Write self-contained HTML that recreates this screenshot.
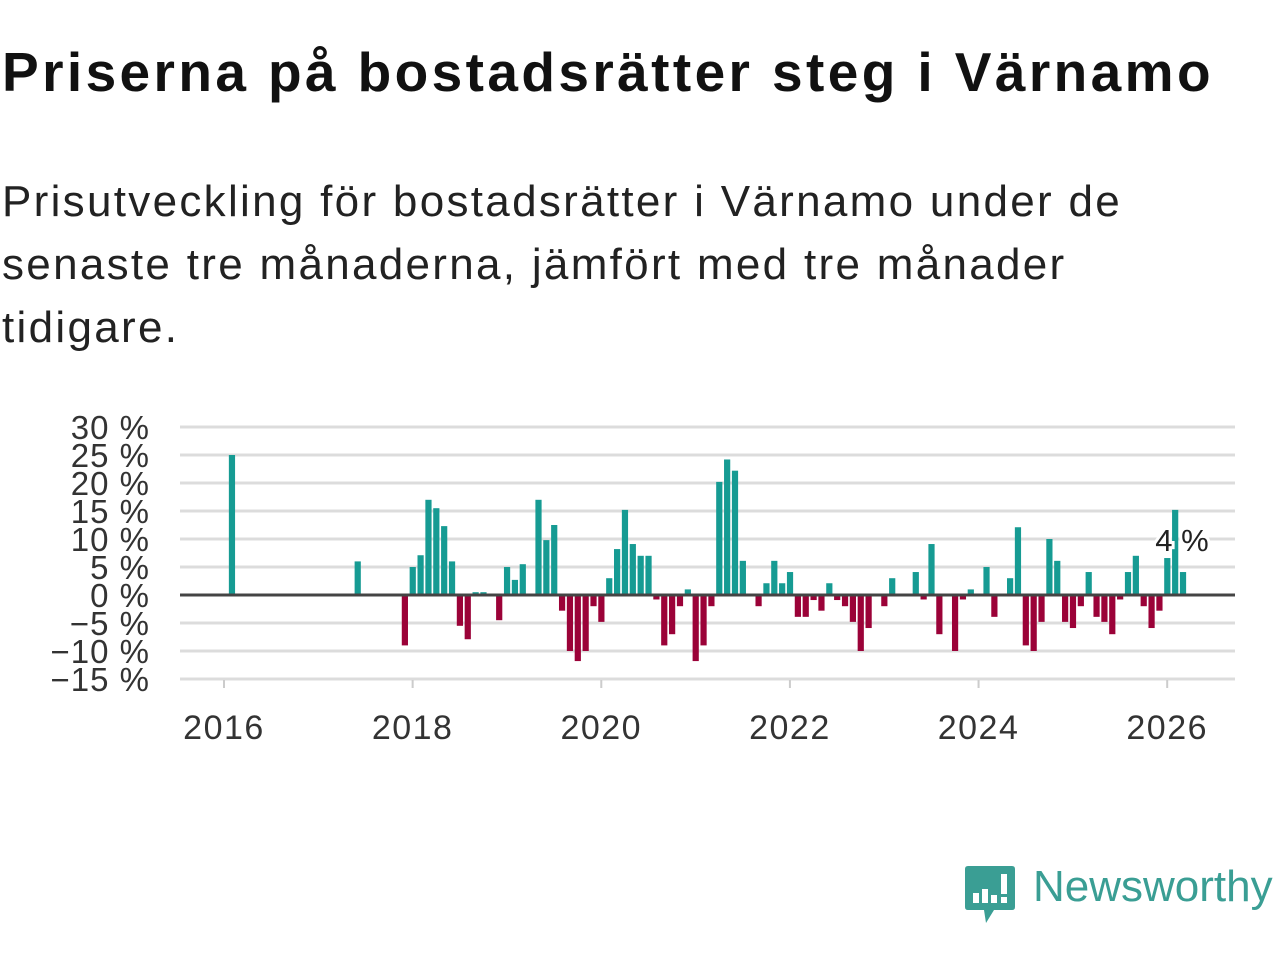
<!DOCTYPE html>
<html><head><meta charset="utf-8">
<style>
body{margin:0;background:#fff;width:1280px;height:960px;overflow:hidden;font-family:"Liberation Sans",sans-serif;color:#111;}
h1{position:absolute;left:2px;top:40px;margin:0;font-size:55px;font-weight:bold;letter-spacing:3.4px;white-space:nowrap;color:#111}
.sub{position:absolute;left:2px;top:170px;margin:0;font-size:44px;letter-spacing:2.3px;line-height:63px;width:1270px;color:#222;white-space:nowrap}
.brand{position:absolute;left:1033px;top:862px;font-size:44px;color:#3a9e94;}
</style></head><body>
<h1>Priserna på bostadsrätter steg i Värnamo</h1>
<p class="sub">Prisutveckling för bostadsrätter i Värnamo under de<br>senaste tre månaderna, jämfört med tre månader<br>tidigare.</p>
<svg id="chart" width="1280" height="960" style="position:absolute;left:0;top:0" xmlns="http://www.w3.org/2000/svg"></svg>
<svg style="position:absolute;left:964px;top:865px" width="52" height="62" viewBox="0 0 52 62">
<path d="M4 1 H48 Q51 1 51 4 V42 Q51 45 48 45 H30 L22 58 L20 45 H4 Q1 45 1 42 V4 Q1 1 4 1Z" fill="#3a9e94"/>
<rect x="9" y="28" width="6" height="10" fill="#fff"/><rect x="18" y="24" width="6" height="14" fill="#fff"/><rect x="27" y="30" width="6" height="8" fill="#fff"/><rect x="37" y="9" width="6" height="20" fill="#fff"/><rect x="37" y="32" width="6" height="6" fill="#fff"/>
</svg>
<div class="brand">Newsworthy</div>
<script>
const months=[];for(let i=0;i<=122;i++)months.push(i);
const values=[0,25,0,0,0,0,0,0,0,0,0,0,0,0,0,0,0,6,0,0,0,0,0,-9,
5,7.1,17,15.5,12.3,6,-5.5,-7.9,0.5,0.5,0,-4.5,
5,2.7,5.5,0,17,9.8,12.5,-2.8,-10,-11.8,-10,-2,
-4.8,3,8.2,15.2,9.1,7,7,-0.8,-9,-7,-2,1,
-11.8,-9,-2,20.2,24.2,22.2,6.1,0,-2,2.1,6.1,2.1,
4.1,-3.9,-3.9,-0.9,-2.8,2.1,-0.9,-2,-4.8,-10,-5.9,0,
-2,3,0,0,4.1,-0.8,9.1,-7,0,-10,-0.8,1,
0,5,-3.9,0,3,12.1,-9,-10,-4.8,10,6.1,-4.8,
-5.9,-2,4.1,-3.9,-4.8,-7,-0.8,4.1,7,-2,-5.9,-2.8,
6.6,15.2,4.1];
const yTicks=[30,25,20,15,10,5,0,-5,-10,-15];
const yTickLabels=["30 %","25 %","20 %","15 %","10 %","5 %","0 %","\u22125 %","\u221210 %","\u221215 %"];
const xYears=[2016,2018,2020,2022,2024,2026];
const lastLabel="4 %";
const svg=document.getElementById('chart');const NS='http://www.w3.org/2000/svg';
const y=v=>595-v*5.6;
const x=m=>224+m*7.86;
const xy=yr=>x((yr-2016)*12);
function mk(t,a){const e=document.createElementNS(NS,t);for(const k in a)e.setAttribute(k,a[k]);svg.appendChild(e);return e;}
yTicks.forEach((v,i)=>{
 if(v!==0){const g=mk('line',{x1:180,x2:1235,y1:y(v),y2:y(v),stroke:'#dcdcdc','stroke-width':3});
 
 }
 const t=mk('text',{x:150,y:y(v)+12,'text-anchor':'end','font-size':33,'letter-spacing':1,fill:'#333','font-family':'Liberation Sans, sans-serif'});
 t.textContent=yTickLabels[i];
 
 
});
xYears.forEach(yr=>{
 const t=mk('text',{x:xy(yr),y:739,'text-anchor':'middle','font-size':34,'letter-spacing':1.5,fill:'#333','font-family':'Liberation Sans, sans-serif'});
 t.textContent=yr;
 
 
 const tk=mk('line',{x1:xy(yr),x2:xy(yr),y1:680,y2:688,stroke:'#ccc','stroke-width':2});
 
 
});
months.forEach((m,i)=>{
 const v=values[i];if(!v)return;
 const r=mk('rect',{x:x(m)-3,y:Math.min(y(v),y(0)),width:6.2,height:Math.abs(y(v)-y(0)),fill:v>0?'#169b93':'#9b0238'});
 
 
});
const z=mk('line',{x1:180,x2:1235,y1:y(0),y2:y(0),stroke:'#444','stroke-width':3});


const lt=mk('text',{x:1182,y:551,'text-anchor':'middle','font-size':31,fill:'#222',stroke:'#fff','stroke-width':6,'paint-order':'stroke','font-family':'Liberation Sans, sans-serif'});
lt.textContent=lastLabel;


</script>
</body></html>
